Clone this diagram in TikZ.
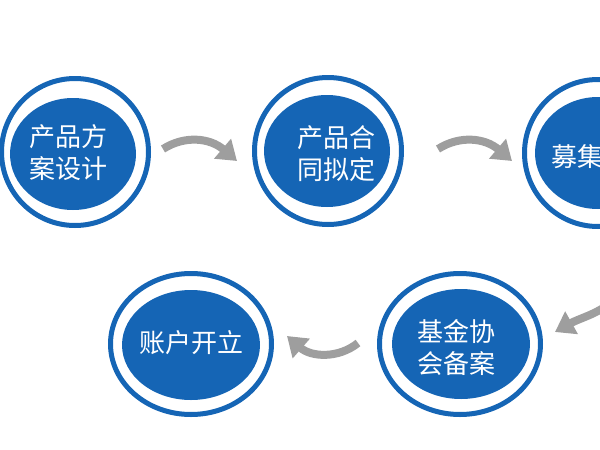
\documentclass[tikz,border=0pt]{standalone}
\usepackage{fontspec}
\newfontfamily\cjk{Noto Sans CJK SC}
\usetikzlibrary{arrows.meta,shapes.geometric}
\definecolor{ringblue}{RGB}{21,101,181}
\definecolor{arrowgray}{RGB}{158,158,158}
\tikzset{
  ring/.style={ellipse, draw=ringblue, line width=5pt, inner sep=0pt, outer sep=0pt},
  disc/.style={ellipse, fill=ringblue, draw=none, inner sep=0pt, outer sep=0pt},
  label/.style={text=white, font=\cjk\fontsize{26}{32}\selectfont, align=center, inner sep=0pt},
  arr/.style={draw=arrowgray, line width=8pt, line cap=butt,
    -{Triangle[length=19pt,width=25pt]}},
}
\begin{document}
\begin{tikzpicture}[x=1pt,y=-1pt]
\useasboundingbox (0,0) rectangle (600,450);
\clip (0,0) rectangle (600,450);
% top row
\node[ring, minimum width=147pt, minimum height=147pt] (r1) at (75,152) {};
\node[disc, minimum width=126pt, minimum height=112pt] (d1) at (73,154) {};
\node[label] (t1) at (68,153) {产品方\\案设计};
\node[ring, minimum width=147pt, minimum height=147pt] (r2) at (328,151) {};
\node[disc, minimum width=126pt, minimum height=112pt] (d2) at (327,151) {};
\node[label] (t2) at (336,154) {产品合\\同拟定};
\node[ring, minimum width=147pt, minimum height=147pt] (r3) at (598,153) {};
\node[disc, minimum width=126pt, minimum height=112pt] (d3) at (598,153) {};
\node[label, anchor=west] (t3) at (551,157) {募集};
% bottom row
\node[ring, minimum width=161pt, minimum height=141pt] (r4) at (191,344) {};
\node[disc, minimum width=138pt, minimum height=110pt] (d4) at (191,345) {};
\node[label] (t4) at (191,343) {账户开立};
\node[ring, minimum width=161pt, minimum height=141pt] (r5) at (460,344) {};
\node[disc, minimum width=138pt, minimum height=110pt] (d5) at (461,344) {};
\node[label] (t5) at (456,347) {基金协\\会备案};
% arrows
\coordinate (a1s) at (163,149);
\coordinate (a1e) at (237,161);
\draw[arr] (a1s) .. controls (185,135) and (210,138) .. (a1e);
\coordinate (a2s) at (438,149);
\coordinate (a2e) at (512,161);
\draw[arr] (a2s) .. controls (460,135) and (485,138) .. (a2e);
\coordinate (a3s) at (358,343);
\coordinate (a3e) at (287,336);
\draw[arr] (a3s) .. controls (338,359) and (311,357) .. (a3e);
\coordinate (a4s) at (612,302);
\coordinate (a4e) at (555,332);
\draw[arr] (a4s) .. controls (595,315) and (580,318) .. (a4e);
\end{tikzpicture}
\end{document}
